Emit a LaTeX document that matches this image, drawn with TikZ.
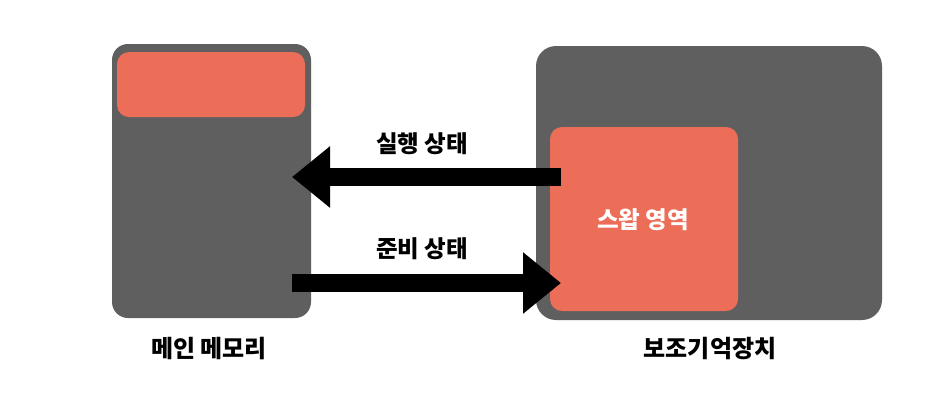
\documentclass[tikz,border=0pt]{standalone}
\usepackage{fontspec}
\newfontfamily\kr{Noto Sans CJK KR}
\usetikzlibrary{arrows.meta}
\definecolor{boxgray}{HTML}{5F5F5F}
\definecolor{swapred}{HTML}{EC6E58}
\tikzset{
  graybox/.style={fill=boxgray, draw=none, inner sep=0pt, rounded corners=16pt},
  redbox/.style={fill=swapred, draw=none, inner sep=0pt, rounded corners=12pt},
  bigarrow/.style={line width=18pt, -{Triangle[length=38pt, width=59pt]}},
  lbl/.style={font=\kr\bfseries\fontsize{23.5}{28}\selectfont, inner sep=0pt},
  caption/.style={font=\kr\bfseries\fontsize{24}{28}\selectfont, inner sep=0pt}
}
\begin{document}
\begin{tikzpicture}[x=1pt, y=-1pt]
\useasboundingbox (0,0) rectangle (942,400);
\fill[white] (0,0) rectangle (942,400);
% main memory
\node[graybox, minimum width=199pt, minimum height=274pt] (mem) at (211.5,181) {};
\node[redbox, minimum width=188pt, minimum height=65pt] (memtop) at (211,84.5) {};
% storage
\node[graybox, minimum width=346pt, minimum height=274pt, rounded corners=20pt] (stor) at (709,183) {};
\node[redbox, minimum width=188pt, minimum height=184pt] (swap) at (644,219) {};
\node[font=\kr\bfseries\fontsize{23.5}{28}\selectfont, text=white, inner sep=0pt] (swaptxt) at (643,220) {스왑 영역};
% arrows
\coordinate (a1s) at (561,177);
\coordinate (a1e) at (292,177);
\coordinate (a2s) at (292,283);
\coordinate (a2e) at (561,283);
\draw[bigarrow] (a1s) -- (a1e);
\draw[bigarrow] (a2s) -- (a2e);
% labels
\node[lbl] (run) at (422,144) {실행 상태};
\node[lbl] (ready) at (422,249) {준비 상태};
\node[caption] (memcap) at (209,349) {메인 메모리};
\node[caption] (storcap) at (710,349) {보조기억장치};
\end{tikzpicture}
\end{document}
